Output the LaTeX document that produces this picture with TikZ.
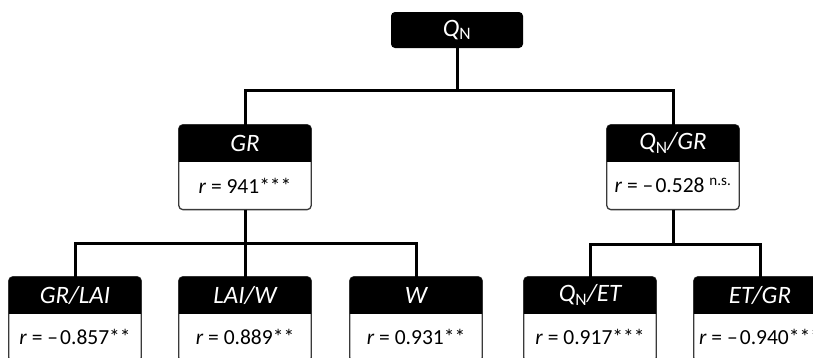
\documentclass[tikz,border=0pt]{standalone}
\usepackage{fontspec}
\setmainfont{Carlito}
\usetikzlibrary{positioning,backgrounds}
\definecolor{boxgray}{HTML}{3A3A3A}
\tikzset{
  hdr/.style={minimum width=132pt, minimum height=36pt, inner sep=0pt, text=white,
    font=\fontsize{25}{27}\selectfont\itshape},
  bdy/.style={minimum width=132pt, minimum height=48pt, inner sep=0pt, text=black,
    font=\fontsize{21.5}{24}\selectfont},
  topbox/.style={hdr, fill=black, rounded corners=4pt},
  conn/.style={line width=3pt, draw=black},
  frame/.style={fill=white, draw=boxgray, line width=1.3pt, rounded corners=4pt}
}
\newcommand\tbox[5]{%
  \node[hdr] (#1) at (#2,#3+18) {#4};
  \node[bdy, below=0pt of #1] (#1b) {#5};
  \begin{scope}[on background layer]
    \path[frame] (#1.north west) rectangle (#1b.south east);
    \begin{scope}
      \clip ([xshift=-3pt,yshift=3pt]#1.north west) rectangle ([xshift=3pt]#1.south east);
      \fill[black, rounded corners=4pt] (#1.north west) rectangle (#1b.south east);
    \end{scope}
  \end{scope}}
\newcommand\QN{\textit{Q}\textsubscript{\upshape N}}
\newcommand\mns{–\kern0.1em}
\begin{document}
\begin{tikzpicture}[x=1pt,y=-1pt]
  \useasboundingbox (0,0) rectangle (813,357);
  \clip (0,0) rectangle (813,357);
  % top node
  \node[topbox] (qn) at (457,30) {\QN};
  % second level
  \tbox{gr}{245}{125}{GR}{\textit{r} = 941***}
  \tbox{qngr}{673}{125}{\QN/GR}{\textit{r} = \mns0.528 \textsuperscript{n.s.}}
  % third level
  \tbox{grlai}{75}{277}{GR/LAI}{\textit{r} = \mns0.857**}
  \tbox{laiw}{245}{277}{LAI/W}{\textit{r} = 0.889**}
  \tbox{w}{416}{277}{W}{\textit{r} = 0.931**}
  \tbox{qnet}{590}{277}{\QN/ET}{\textit{r} = 0.917***}
  \tbox{etgr}{760}{277}{ET/GR}{\textit{r} = \mns0.940***}
  % connectors
  \coordinate (j1) at (457,90);
  \coordinate (j2) at (245,243);
  \coordinate (j3) at (673,244);
  \draw[conn] (qn.south) -- (j1);
  \draw[conn] (gr.north) |- (j1) -| (qngr.north);
  \draw[conn] (grb.south) -- (j2);
  \draw[conn] (grlai.north) |- (j2) -| (w.north);
  \draw[conn] (laiw.north) -- (laiw.north |- j2);
  \draw[conn] (qngrb.south) -- (j3);
  \draw[conn] (qnet.north) |- (j3) -| (etgr.north);
\end{tikzpicture}
\end{document}
